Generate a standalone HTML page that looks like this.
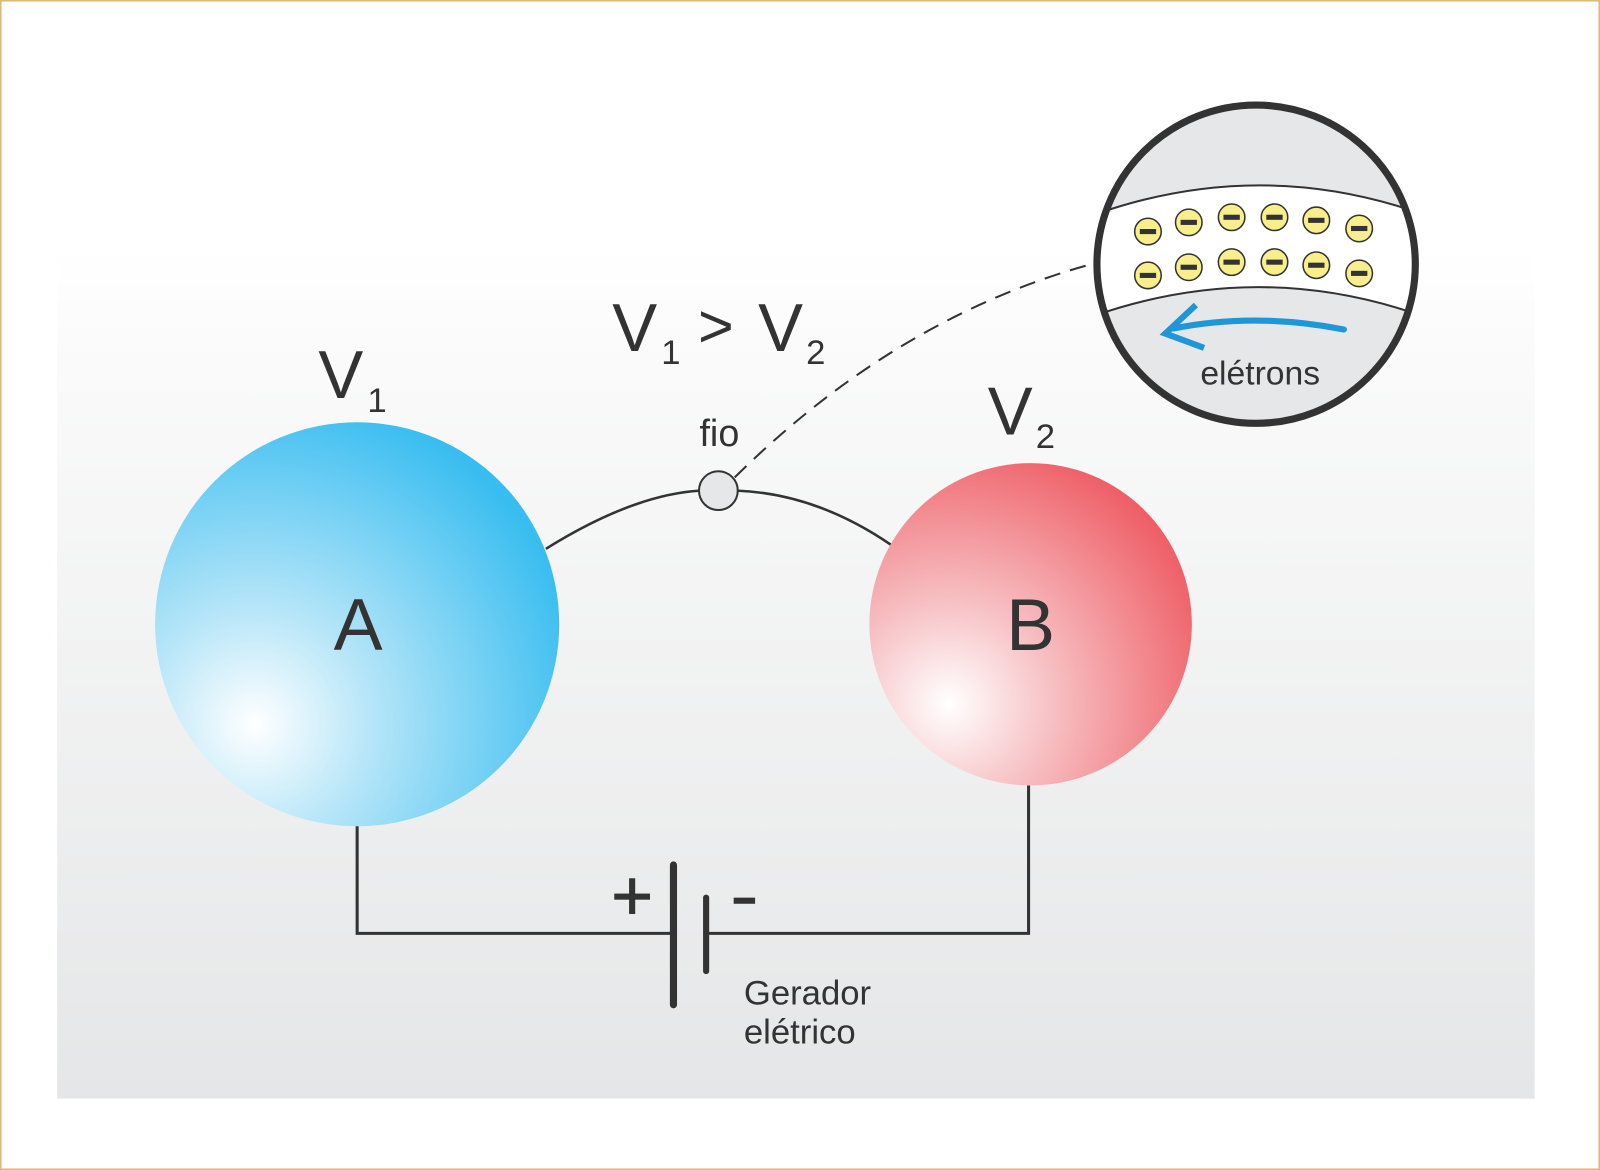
<!DOCTYPE html>
<html><head><meta charset="utf-8"><style>
html,body{margin:0;padding:0;background:#fff;}
svg{display:block;}
text{font-family:"Liberation Sans",Arial,sans-serif;fill:#333;}
</style></head><body>
<svg width="1600" height="1170" viewBox="0 0 1568 1147" preserveAspectRatio="none" xmlns="http://www.w3.org/2000/svg">
<defs>
<linearGradient id="bg" x1="0" y1="0" x2="0" y2="1">
<stop offset="0" stop-color="#ffffff"/>
<stop offset="0.1" stop-color="#fbfbfb"/>
<stop offset="1" stop-color="#e5e6e7"/>
</linearGradient>
<radialGradient id="ga" cx="250" cy="710" r="330" gradientUnits="userSpaceOnUse">
<stop offset="0" stop-color="#ffffff"/>
<stop offset="0.35" stop-color="#b5e5f8"/>
<stop offset="1" stop-color="#38bdf0"/>
</radialGradient>
<radialGradient id="gb" cx="930" cy="690" r="275" gradientUnits="userSpaceOnUse">
<stop offset="0" stop-color="#ffffff"/>
<stop offset="0.35" stop-color="#f7c3c6"/>
<stop offset="1" stop-color="#ee5a62"/>
</radialGradient>
<clipPath id="mc"><circle cx="1231" cy="259" r="153"/></clipPath>
<g id="e"><circle r="13" fill="#f8ef8c" stroke="#333" stroke-width="1.5"/><rect x="-8" y="-2.5" width="16" height="5" fill="#333"/></g>
</defs>
<rect x="0.5" y="0.5" width="1567" height="1146" fill="#fff" stroke="#dcb87c" stroke-width="2"/>
<rect x="56" y="245" width="1448" height="832" fill="url(#bg)"/>

<path d="M535 538 Q620 485 686 481" fill="none" stroke="#333" stroke-width="2.5"/>
<path d="M722 481 Q800 484 873 534" fill="none" stroke="#333" stroke-width="2.5"/>
<path d="M720 468 Q880 310 1073 258" fill="none" stroke="#333" stroke-width="2" stroke-dasharray="16 10"/>
<circle cx="704" cy="481" r="19" fill="#e6e7e8" stroke="#333" stroke-width="2"/>

<circle cx="350" cy="612" r="198" fill="url(#ga)"/>
<circle cx="1010" cy="612" r="158" fill="url(#gb)"/>

<path d="M350 810 V915 H660 M692 915 H1008 V770" fill="none" stroke="#333" stroke-width="3"/>
<line x1="660" y1="848" x2="660" y2="985" stroke="#333" stroke-width="7" stroke-linecap="round"/>
<line x1="692" y1="880" x2="692" y2="952" stroke="#333" stroke-width="6" stroke-linecap="round"/>
<rect x="602" y="876" width="35" height="6" fill="#333"/>
<rect x="616.5" y="861" width="6" height="35" fill="#333"/>
<rect x="719" y="880" width="21" height="6" fill="#333"/>
<text x="729" y="985" font-size="34">Gerador</text>
<text x="729" y="1023" font-size="34">elétrico</text>

<text x="312" y="390" font-size="66">V</text><text x="360" y="404" font-size="34">1</text>
<text x="600" y="344" font-size="66">V</text><text x="648" y="357" font-size="34">1</text>
<text x="684" y="340" font-size="60">&gt;</text>
<text x="743" y="344" font-size="66">V</text><text x="790" y="357" font-size="34">2</text>
<text x="968" y="426" font-size="66">V</text><text x="1015" y="439" font-size="34">2</text>
<text x="705" y="437" font-size="37" text-anchor="middle">fio</text>
<text x="351" y="637" font-size="72" text-anchor="middle">A</text>
<text x="1010" y="637" font-size="72" text-anchor="middle">B</text>

<circle cx="1231" cy="259" r="156" fill="#e6e7e8"/>
<g clip-path="url(#mc)">
<path d="M1060 215 Q1231 150 1400 212 L1400 312 Q1231 250 1060 314 Z" fill="#fff"/>
<path d="M1060 215 Q1231 150 1400 212" fill="none" stroke="#333" stroke-width="2"/>
<path d="M1060 314 Q1231 250 1400 312" fill="none" stroke="#333" stroke-width="2"/>
</g>
<circle cx="1231" cy="259" r="156" fill="none" stroke="#333" stroke-width="7"/>
<use href="#e" x="1125" y="227"/><use href="#e" x="1165" y="218"/><use href="#e" x="1207" y="213"/>
<use href="#e" x="1249" y="213"/><use href="#e" x="1290" y="216"/><use href="#e" x="1332" y="224"/>
<use href="#e" x="1125" y="270"/><use href="#e" x="1165" y="262"/><use href="#e" x="1207" y="257"/>
<use href="#e" x="1249" y="257"/><use href="#e" x="1290" y="260"/><use href="#e" x="1332" y="268"/>
<path d="M1317 323 Q1230 306 1150 322" fill="none" stroke="#1e96d7" stroke-width="6" stroke-linecap="round"/>
<path d="M1172 299 L1142 327 L1180 341" fill="none" stroke="#1e96d7" stroke-width="6"/>
<text x="1235" y="377" font-size="33" text-anchor="middle">elétrons</text>
</svg>
</body></html>
